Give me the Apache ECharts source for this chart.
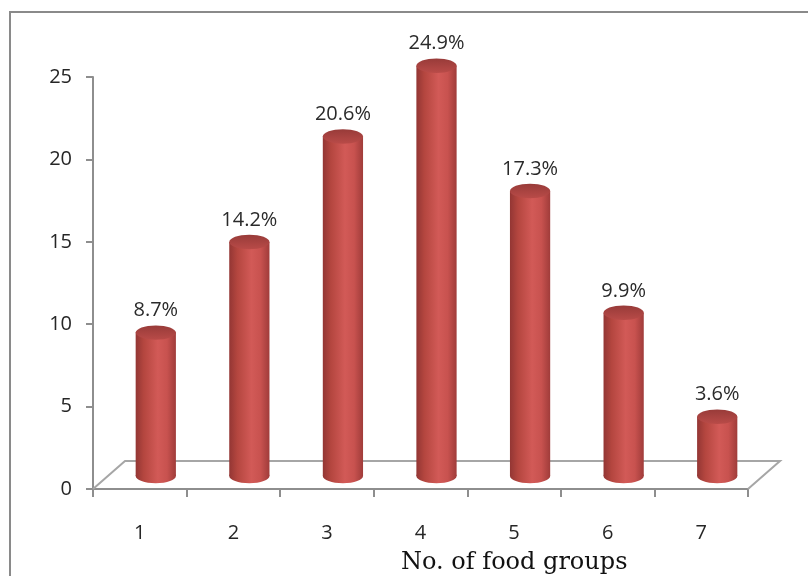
<!DOCTYPE html>
<html>
<head>
<meta charset="utf-8">
<script src="https://cdn.jsdelivr.net/npm/echarts@6/dist/echarts.min.js"></script>
<style>html,body{margin:0;padding:0;background:#fff}#c{width:808px;height:576px}</style>
</head>
<body>
<div id="c"></div>
<script>
const categories = ['1', '2', '3', '4', '5', '6', '7'];
const values = [8.7, 14.2, 20.6, 24.9, 17.3, 9.9, 3.6];
const yTicks = [0, 5, 10, 15, 20, 25];
const xTitle = 'No. of food groups';

const FONT = 'Open Sans';
const DEPTH_X = 32, DEPTH_Y = -28;

const bodyGrad = {
  type: 'linear', x: 0, y: 0, x2: 1, y2: 0,
  colorStops: [
    { offset: 0, color: '#933634' },
    { offset: 0.2, color: '#b4463f' },
    { offset: 0.55, color: '#d25a57' },
    { offset: 0.78, color: '#c8524f' },
    { offset: 1, color: '#a03c3a' }
  ]
};
const topGrad = {
  type: 'linear', x: 0, y: 0, x2: 0, y2: 1,
  colorStops: [
    { offset: 0, color: '#983b39' },
    { offset: 1, color: '#b94b48' }
  ]
};

function renderCylinder(params, api) {
  const idx = api.value(0);
  const v = api.value(1);
  const top = api.coord([idx, v]);
  const base = api.coord([idx, 0]);
  const band = api.size([1, 0])[0];
  const w = band * 0.43;
  const rx = w / 2, ry = rx * 0.36;
  return {
    type: 'group',
    children: [
      { type: 'ellipse', shape: { cx: base[0], cy: base[1], rx: rx, ry: ry }, style: { fill: bodyGrad } },
      { type: 'rect', shape: { x: base[0] - rx, y: top[1], width: w, height: base[1] - top[1] }, style: { fill: bodyGrad } },
      { type: 'ellipse', shape: { cx: top[0], cy: top[1], rx: rx, ry: ry }, style: { fill: topGrad } },
      { type: 'text', x: top[0], y: top[1] - 22,
        style: { text: v.toFixed(1) + '%', fontFamily: FONT, fontSize: 20, fill: '#2a2a2a', align: 'center', verticalAlign: 'middle' } }
    ]
  };
}

function renderFloor(params, api) {
  const band = api.size([1, 0])[0];
  const p0 = api.coord([0, 0]);
  const p1 = api.coord([categories.length - 1, 0]);
  const left = p0[0] - band / 2, right = p1[0] + band / 2, y0 = p0[1];
  return {
    type: 'polyline',
    shape: { points: [[left, y0], [left + DEPTH_X, y0 + DEPTH_Y], [right + DEPTH_X, y0 + DEPTH_Y], [right, y0]] },
    style: { stroke: '#a6a6a6', lineWidth: 2, fill: null }
  };
}

const chart = echarts.init(document.getElementById('c'), null, { renderer: 'canvas' });
chart.setOption({
  animation: false,
  backgroundColor: '#fff',
  graphic: [{
    type: 'rect', shape: { x: 10, y: 12, width: 900, height: 700 },
    style: { fill: 'none', stroke: '#8a8a8a', lineWidth: 2 }, z: -10
  }],
  title: {
    text: xTitle, left: 396, top: 546,
    textStyle: { fontFamily: 'DejaVu Serif', fontSize: 24, fontWeight: 'normal', color: '#111' }
  },
  grid: [
    { left: 93, top: 77, width: 655, height: 412 },
    { left: 109, top: 64, width: 655, height: 412 }
  ],
  xAxis: [
    {
      gridIndex: 0, type: 'category', data: categories, boundaryGap: true,
      axisLine: { lineStyle: { color: '#8e8e8e', width: 2 } },
      axisTick: { show: true, length: 8, lineStyle: { color: '#8e8e8e', width: 2 } },
      axisLabel: { fontFamily: FONT, fontSize: 20, color: '#262626', margin: 34 }
    },
    { gridIndex: 1, type: 'category', data: categories, boundaryGap: true, show: false }
  ],
  yAxis: [
    {
      gridIndex: 0, type: 'value', min: yTicks[0], max: yTicks[yTicks.length - 1], interval: yTicks[1] - yTicks[0],
      axisLine: { show: true, lineStyle: { color: '#8e8e8e', width: 2 } },
      axisTick: { show: true, length: 7, lineStyle: { color: '#8e8e8e', width: 2 } },
      splitLine: { show: false },
      axisLabel: { fontFamily: FONT, fontSize: 20, color: '#262626', margin: 21 }
    },
    { gridIndex: 1, type: 'value', min: yTicks[0], max: yTicks[yTicks.length - 1], show: false, splitLine: { show: false } }
  ],
  series: [
    {
      type: 'custom', xAxisIndex: 0, yAxisIndex: 0, silent: true, z: 1,
      renderItem: renderFloor, data: [[0, 0]]
    },
    {
      type: 'custom', xAxisIndex: 1, yAxisIndex: 1, z: 5,
      renderItem: renderCylinder,
      data: values.map((v, i) => [i, v])
    }
  ]
});
</script>
</body>
</html>
